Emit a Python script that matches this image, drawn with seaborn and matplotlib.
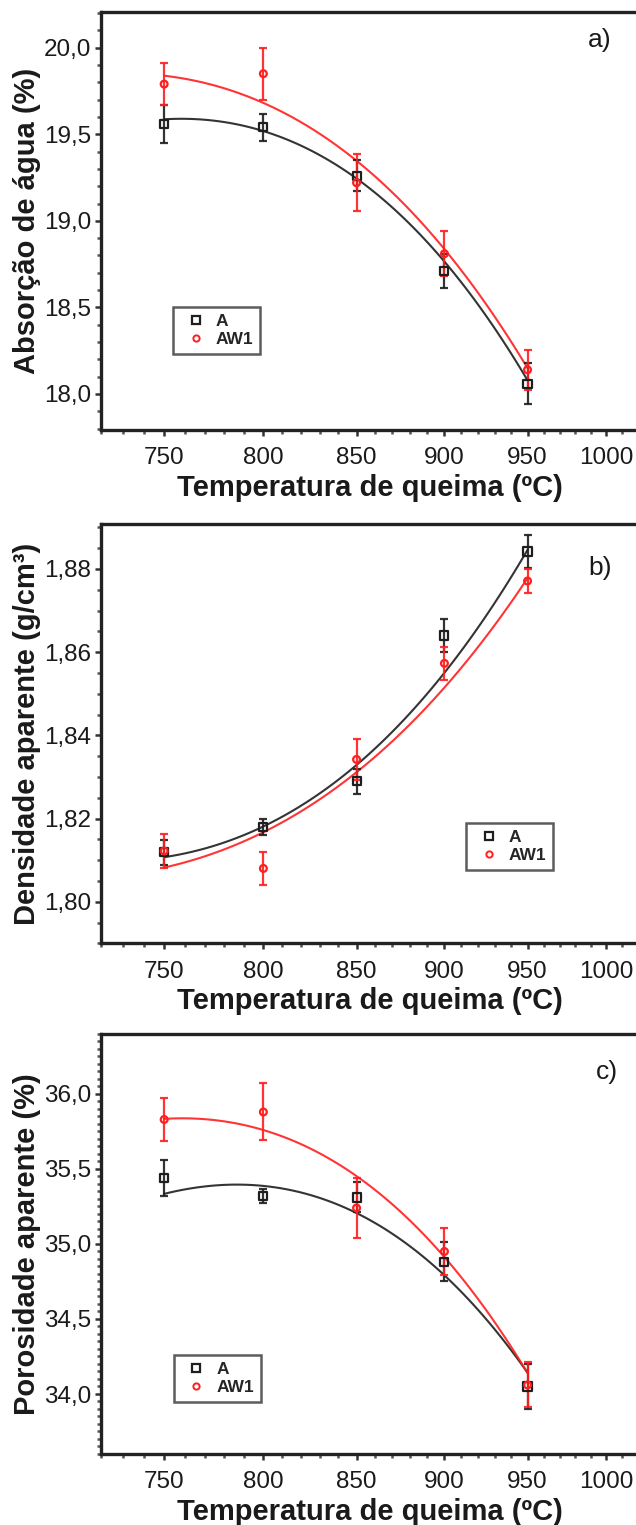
import numpy as np
import pandas as pd
import seaborn as sns
import matplotlib
matplotlib.use("Agg")
import matplotlib.pyplot as plt
from matplotlib.ticker import FixedLocator, FixedFormatter, NullFormatter, MultipleLocator, FuncFormatter
from matplotlib.lines import Line2D

# Firing temperatures (ºC)
temps = [750, 800, 850, 900, 950]

# a) Water absorption (%): measured means, standard deviations and fitted-curve values
abs_A = [19.56, 19.54, 19.26, 18.71, 18.06]
abs_A_err = [0.11, 0.08, 0.09, 0.10, 0.12]
abs_AW1 = [19.79, 19.85, 19.22, 18.81, 18.14]
abs_AW1_err = [0.12, 0.15, 0.165, 0.13, 0.115]
abs_A_fit = [19.583, 19.525, 19.246, 18.756, 18.083]
abs_AW1_fit = [19.829, 19.698, 19.352, 18.813, 18.160]

# b) Bulk density (g/cm3)
den_A = [1.8119, 1.8180, 1.8290, 1.8640, 1.8842]
den_A_err = [0.003, 0.002, 0.003, 0.004, 0.004]
den_AW1 = [1.8122, 1.8080, 1.8342, 1.8573, 1.8771]
den_AW1_err = [0.004, 0.004, 0.005, 0.004, 0.003]
den_A_fit = [1.8110, 1.8176, 1.8326, 1.8559, 1.8842]
den_AW1_fit = [1.8084, 1.8164, 1.8309, 1.8521, 1.8775]

# c) Apparent porosity (%)
por_A = [35.44, 35.32, 35.31, 34.88, 34.05]
por_A_err = [0.12, 0.05, 0.10, 0.13, 0.15]
por_AW1 = [35.83, 35.88, 35.24, 34.95, 34.06]
por_AW1_err = [0.14, 0.19, 0.20, 0.16, 0.15]
por_A_fit = [35.333, 35.395, 35.190, 34.805, 34.138]
por_AW1_fit = [35.846, 35.744, 35.428, 34.961, 34.120]

series_names = ["A", "AW1"]
x_ticks = [750, 800, 850, 900, 950, 1000]
x_label = "Temperatura de queima (ºC)"

sns.set_theme(style="ticks")
plt.rcParams["font.family"] = ["Liberation Sans", "DejaVu Sans"]

BLACK = "#1e1e1e"
RED = "#ff1f1f"
SPINE = "#222222"

fig = plt.figure(figsize=(6.36, 15.25), dpi=100)

W, H = 636.0, 1525.0
ax_left = 101.4 / W
ax_width = 580.0 / W


def make_axes(top_px, bottom_px):
    return fig.add_axes([ax_left, (H - bottom_px) / H, ax_width, (bottom_px - top_px) / H])


panels = [
    dict(top=11.7, bottom=430.0,
         A=(abs_A, abs_A_err, abs_A_fit), B=(abs_AW1, abs_AW1_err, abs_AW1_fit),
         ylim=(17.792, 20.208), major=0.5, minor=0.1, fmt="{:.1f}",
         ylabel="Absorção de água (%)", letter="a)", letter_xy=(0.8597, 0.932),
         leg=(0.1234, 0.294)),
    dict(top=524.0, bottom=943.3,
         A=(den_A, den_A_err, den_A_fit), B=(den_AW1, den_AW1_err, den_AW1_fit),
         ylim=(1.790, 1.8908), major=0.02, minor=0.005, fmt="{:.2f}",
         ylabel="Densidade aparente (g/cm³)", letter="b)", letter_xy=(0.8597, 0.895),
         leg=(0.6286, 0.287)),
    dict(top=1034.0, bottom=1454.0,
         A=(por_A, por_A_err, por_A_fit), B=(por_AW1, por_AW1_err, por_AW1_fit),
         ylim=(33.60, 36.40), major=0.5, minor=0.05, fmt="{:.1f}",
         ylabel="Porosidade aparente (%)", letter="c)", letter_xy=(0.8717, 0.9095),
         leg=(0.125, 0.2357)),
]

styles = {"A": (BLACK, "s", 34), "AW1": (RED, "o", 24)}

for p in panels:
    ax = make_axes(p["top"], p["bottom"])
    ax.set_xscale("log")

    for name, key in [("A", "A"), ("AW1", "B")]:
        vals, errs, fit = p[key]
        col, mk, sz = styles[name]
        d = pd.DataFrame({"T": temps, "v": vals, "err": errs, "fit": fit})
        # second-order polynomial trend curve
        sns.regplot(data=d, x="T", y="fit", order=2, ci=None, scatter=False, truncate=True,
                    line_kws=dict(color=col, lw=1.5, alpha=0.9), ax=ax)
        ax.errorbar(d["T"], d["v"], yerr=d["err"], fmt="none", ecolor=col,
                    elinewidth=1.6, capsize=3, capthick=1.6, alpha=0.9, zorder=3)
        sns.scatterplot(data=d, x="T", y="v", marker=mk, s=sz, facecolor="none",
                        edgecolor=col, linewidth=1.6, ax=ax, zorder=4, legend=False)

    ax.set_xlim(720, 1050)
    ax.set_ylim(*p["ylim"])

    ax.xaxis.set_major_locator(FixedLocator(x_ticks))
    ax.xaxis.set_major_formatter(FixedFormatter([str(t) for t in x_ticks]))
    ax.xaxis.set_minor_locator(FixedLocator(list(range(720, 1050, 10))))
    ax.xaxis.set_minor_formatter(NullFormatter())

    ax.yaxis.set_major_locator(MultipleLocator(p["major"]))
    ax.yaxis.set_minor_locator(MultipleLocator(p["minor"]))
    fmt = p["fmt"]
    ax.yaxis.set_major_formatter(FuncFormatter(lambda v, pos, f=fmt: f.format(v).replace(".", ",")))

    for s in ax.spines.values():
        s.set_linewidth(2.4)
        s.set_color(SPINE)

    ax.tick_params(which="major", direction="out", length=4.5, width=1.8, color="#333333",
                   labelsize=17.5, labelcolor="#1a1a1a")
    ax.tick_params(which="minor", direction="out", length=2.8, width=1.8, color="#555555")
    ax.tick_params(axis="x", which="major", pad=8)
    ax.tick_params(axis="y", which="major", pad=3)

    ax.set_xlabel(x_label, fontsize=21, fontweight="bold", color="#1a1a1a")
    ax.set_ylabel(p["ylabel"], fontsize=21, fontweight="bold", color="#1a1a1a")
    ax.xaxis.set_label_coords(0.463, -0.105)
    ax.yaxis.set_label_coords(-0.128, 0.5)
    ax.yaxis.label.set_va("center")

    ax.text(p["letter_xy"][0], p["letter_xy"][1], p["letter"], transform=ax.transAxes,
            ha="center", va="center", fontsize=19, color="#1a1a1a")

    handles = [Line2D([], [], ls="none", marker="s", ms=5.5, mfc="none", mec=BLACK, mew=1.6),
               Line2D([], [], ls="none", marker="o", ms=4.5, mfc="none", mec=RED, mew=1.4)]
    leg = ax.legend(handles, series_names, loc="upper left", bbox_to_anchor=p["leg"],
                    borderaxespad=0, frameon=True, fancybox=False, handlelength=1.8,
                    handletextpad=0.25, borderpad=0.4, labelspacing=0.15,
                    prop=dict(family="Liberation Sans", weight="bold", size=12.5))
    leg.get_frame().set_edgecolor("#333333")
    leg.get_frame().set_linewidth(1.8)

fig.savefig("out.png", dpi=100)
